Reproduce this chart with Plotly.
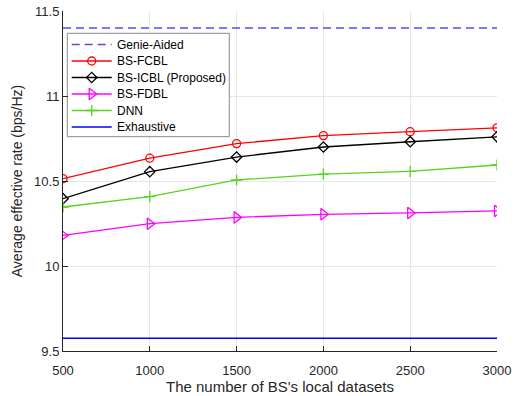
import plotly.graph_objects as go

# Number of local datasets at each base station
datasets = [500, 1000, 1500, 2000, 2500, 3000]

# Average effective rate (bps/Hz) of each scheme
genie_aided = 11.40
bs_fcbl = [10.514, 10.634, 10.720, 10.767, 10.790, 10.813]
bs_icbl = [10.396, 10.555, 10.641, 10.700, 10.731, 10.760]
bs_fdbl = [10.180, 10.249, 10.286, 10.304, 10.312, 10.324]
dnn = [10.347, 10.408, 10.506, 10.540, 10.557, 10.594]
exhaustive = 9.575

x_ticks = [500, 1000, 1500, 2000, 2500, 3000]
y_ticks = [9.5, 10, 10.5, 11, 11.5]
y_tick_text = ["9.5", "10", "10.5", "11", "11.5"]

FONT = "Liberation Sans, Arial, Helvetica, sans-serif"
AX = "#262626"

W, H = 516, 396
M = dict(l=63, r=19, t=11, b=45)
PW, PH = W - M["l"] - M["r"], H - M["t"] - M["b"]

# Series styles: name, y-values, line colour, dash, marker symbol, marker size
series = [
    ("Genie-Aided", None, "#4d4dff", "8px,5px", None, 0),
    ("BS-FCBL", bs_fcbl, "#ff0000", "solid", "circle-open", 8),
    ("BS-ICBL (Proposed)", bs_icbl, "#000000", "solid", "diamond-open", 8),
    ("BS-FDBL", bs_fdbl, "#ff00ff", "solid", "triangle-right-open", 10),
    ("DNN", dnn, "#55d41e", "solid", "cross-thin-open", 8),
    ("Exhaustive", None, "#0000ff", "solid", None, 0),
]

fig = go.Figure()

for name, ys, color, dash, sym, size in series:
    if ys is None:
        level = genie_aided if name == "Genie-Aided" else exhaustive
        fig.add_trace(go.Scatter(
            x=[datasets[0], datasets[-1]], y=[level, level],
            mode="lines", name=name, showlegend=False,
            line=dict(color=color, width=1.5 if dash != "solid" else 1.3,
                      dash=dash),
        ))
    else:
        fig.add_trace(go.Scatter(
            x=datasets, y=ys, mode="lines+markers", name=name,
            showlegend=False,
            line=dict(color=color, width=1.3),
            marker=dict(symbol=sym, size=size, color=color,
                        line=dict(width=1.3, color=color)),
        ))

# Legend box drawn on a pixel-unit overlay axis inside the plot area
box_x0, box_x1, box_y0, box_y1 = 4.3, 166.3, 22.3, 125.7
row0, row_gap = 33.5, 16.5
samp_x0, samp_x1, text_x = 8.7, 48.7, 52.0

fig.add_trace(go.Scatter(
    x=[box_x0, box_x1, box_x1, box_x0, box_x0],
    y=[box_y0, box_y0, box_y1, box_y1, box_y0],
    xaxis="x2", yaxis="y2", mode="lines", fill="toself",
    fillcolor="white", line=dict(color="#8a8a8a", width=1),
    showlegend=False, hoverinfo="skip",
))

for i, (name, ys, color, dash, sym, size) in enumerate(series):
    yy = row0 + i * row_gap
    fig.add_trace(go.Scatter(
        x=[samp_x0, samp_x1], y=[yy, yy], xaxis="x2", yaxis="y2",
        mode="lines", showlegend=False, hoverinfo="skip",
        line=dict(color=color, width=1.5 if dash != "solid" else 1.3,
                  dash=dash),
    ))
    if sym:
        fig.add_trace(go.Scatter(
            x=[(samp_x0 + samp_x1) / 2], y=[yy], xaxis="x2", yaxis="y2",
            mode="markers", showlegend=False, hoverinfo="skip",
            marker=dict(symbol=sym, size=size, color=color,
                        line=dict(width=1.3, color=color)),
        ))
    fig.add_annotation(
        x=text_x, y=yy, xref="x2", yref="y2", text=name,
        showarrow=False, xanchor="left", yanchor="middle",
        font=dict(family=FONT, size=12, color="#000000"),
    )

fig.update_layout(
    width=W, height=H,
    margin=M,
    paper_bgcolor="white", plot_bgcolor="white",
    font=dict(family=FONT, size=13, color=AX),
    showlegend=False,
    xaxis=dict(
        range=[500, 3000], tickvals=x_ticks, automargin=False,
        showgrid=True, gridcolor="#e6e6e6", gridwidth=1,
        showline=True, linecolor=AX, linewidth=1,
        ticks="inside", ticklen=5, tickcolor=AX,
        zeroline=False, mirror=False,
        tickfont=dict(size=13, color=AX), ticklabelstandoff=7,
        title=dict(text="The number of BS's local datasets",
                   font=dict(size=15, color=AX), standoff=3),
    ),
    yaxis=dict(
        range=[9.5, 11.5], tickvals=y_ticks, ticktext=y_tick_text,
        automargin=False,
        showgrid=True, gridcolor="#e6e6e6", gridwidth=1,
        showline=True, linecolor=AX, linewidth=1,
        ticks="inside", ticklen=5, tickcolor=AX,
        zeroline=False, mirror=False,
        tickfont=dict(size=13, color=AX),
        title=dict(text="Average effective rate (bps/Hz)",
                   font=dict(size=14, color=AX), standoff=8),
    ),
    xaxis2=dict(overlaying="x", anchor="y2", range=[0, PW], visible=False,
                fixedrange=True, automargin=False),
    yaxis2=dict(overlaying="y", anchor="x2", range=[PH, 0], visible=False,
                fixedrange=True, automargin=False),
)

fig.write_html("out.html")
